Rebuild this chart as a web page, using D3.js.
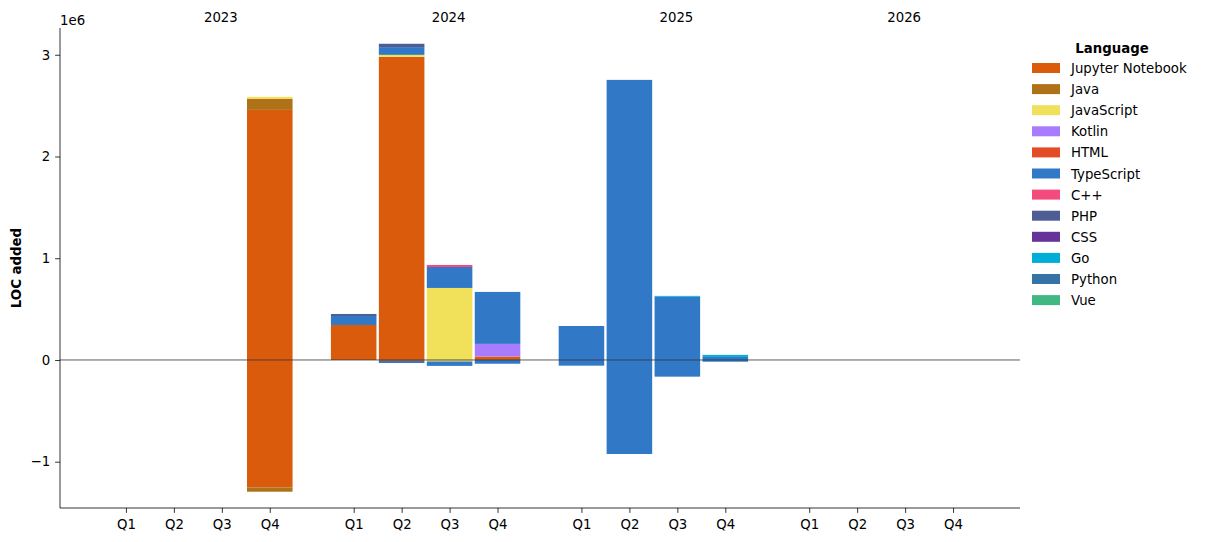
<!DOCTYPE html>
<html>
<head>
<meta charset="utf-8">
<script src="https://cdn.jsdelivr.net/npm/d3@7"></script>
<style>
  body { margin: 0; background: #fff; }
  svg { font-family: "DejaVu Sans", sans-serif; }
</style>
</head>
<body>
<svg id="chart" width="1207" height="542"></svg>
<script>
// ---- data ----
const years = ["2023", "2024", "2025", "2026"];
const quarters = ["Q1", "Q2", "Q3", "Q4"];
const languages = ["Jupyter Notebook", "Java", "JavaScript", "Kotlin", "HTML", "TypeScript", "C++", "PHP", "CSS", "Go", "Python", "Vue"];
const colors = ["#DA5B0B", "#b07219", "#f1e05a", "#A97BFF", "#e34c26", "#3178c6", "#f34b7d", "#4F5D95", "#663399", "#00ADD8", "#3572A5", "#41b883"];
// 16 slots: 2023Q1..Q4, 2024Q1..Q4, 2025Q1..Q4, 2026Q1..Q4
const addedJupyter    = [0,0,0,2458000, 344000,2979000,0,33000, 0,0,0,0, 0,0,0,0];
const addedJava       = [0,0,0,108000, 0,0,0,0, 0,0,0,0, 0,0,0,0];
const addedJavaScript = [0,0,0,20000, 0,20000,708000,0, 0,0,0,0, 0,0,0,0];
const addedKotlin     = [0,0,0,0, 0,0,0,125000, 0,0,0,0, 0,0,0,0];
const addedHTML       = [0,0,0,0, 0,0,0,0, 0,0,0,0, 0,0,0,0];
const addedTypeScript = [0,0,0,0, 88000,76000,206000,511000, 334000,2753000,622000,30000, 0,0,0,0];
const addedCpp        = [0,0,0,0, 0,0,20000,0, 0,0,0,0, 0,0,0,0];
const addedPHP        = [0,0,0,0, 20000,33000,0,0, 0,0,0,0, 0,0,0,0];
const addedCSS        = [0,0,0,0, 0,0,0,0, 0,0,0,0, 0,0,0,0];
const addedGo         = [0,0,0,0, 0,0,0,0, 0,0,8000,20000, 0,0,0,0];
const addedPython     = [0,0,0,0, 0,0,0,0, 0,0,0,0, 0,0,0,0];
const addedVue        = [0,0,0,0, 0,0,0,0, 0,0,0,0, 0,0,0,0];

const removedJupyter    = [0,0,0,-1252000, 0,-10000,0,0, 0,0,0,0, 0,0,0,0];
const removedJava       = [0,0,0,-43000, 0,0,0,0, 0,0,0,0, 0,0,0,0];
const removedJavaScript = [0,0,0,0, 0,0,-15000,0, 0,0,0,0, 0,0,0,0];
const removedTypeScript = [0,0,0,0, 0,-20000,-43000,-37000, -56000,-924000,-164000,-17000, 0,0,0,0];

const yTicks = [-1, 0, 1, 2, 3];

const added = [addedJupyter, addedJava, addedJavaScript, addedKotlin, addedHTML, addedTypeScript, addedCpp, addedPHP, addedCSS, addedGo, addedPython, addedVue];
const zeros = new Array(16).fill(0);
const removed = [removedJupyter, removedJava, removedJavaScript, zeros, zeros, removedTypeScript, zeros, zeros, zeros, zeros, zeros, zeros];

// ---- layout ----
const svg = d3.select("#chart");
const mLeft = 60, mRight = 1020, mTop = 28, mBottom = 508;
const yearStep = 4.75;
const slotPos = (i) => Math.floor(i / 4) * yearStep + (i % 4);

const x = d3.scaleLinear().domain([-1.375, 3 * yearStep + 3 + 1.396]).range([mLeft, mRight]);
const y = d3.scaleLinear().domain([-1455000, 3263000]).range([mBottom, mTop]);
const barW = (x(0.95) - x(0));

// stacked segments
const segs = [];
for (let s = 0; s < 16; s++) {
  let pos = 0, neg = 0;
  languages.forEach((lang, li) => {
    const a = added[li][s];
    if (a > 0) { segs.push({ s, li, y0: pos, y1: pos + a }); pos += a; }
    const r = removed[li][s];
    if (r < 0) { segs.push({ s, li, y0: neg + r, y1: neg }); neg += r; }
  });
}

svg.append("g").selectAll("rect").data(segs).join("rect")
  .attr("x", d => x(slotPos(d.s)) - barW / 2)
  .attr("width", barW)
  .attr("y", d => y(d.y1))
  .attr("height", d => Math.max(0, y(d.y0) - y(d.y1)))
  .attr("fill", d => colors[d.li]);

// zero line
svg.append("line")
  .attr("x1", mLeft).attr("x2", mRight)
  .attr("y1", y(0)).attr("y2", y(0))
  .attr("stroke", "#333").attr("stroke-width", 0.8);

// axes
const yAxis = d3.axisLeft(y).tickValues(yTicks.map(v => v * 1e6))
  .tickFormat(d => d3.format("d")(d / 1e6).replace("-", "\u2212"))
  .tickSizeOuter(0).tickSize(4.9).tickPadding(5);
const gy = svg.append("g").attr("transform", `translate(${mLeft},0)`).call(yAxis);
gy.select(".domain").attr("d", `M0,${mTop}V${mBottom}`).attr("stroke", "#000").attr("stroke-width", 0.8);
gy.selectAll(".tick line").attr("stroke", "#000").attr("stroke-width", 0.8);
gy.selectAll("text").attr("font-size", 13.3).attr("fill", "#000").attr("font-family", "DejaVu Sans");

const slots = d3.range(16);
const xAxis = d3.axisBottom(x).tickValues(slots.map(slotPos))
  .tickFormat((d, i) => quarters[i % 4]).tickSizeOuter(0).tickSize(4.9).tickPadding(6.5);
const gx = svg.append("g").attr("transform", `translate(0,${mBottom})`).call(xAxis);
gx.select(".domain").attr("d", `M${mLeft},0H${mRight}`).attr("stroke", "#000").attr("stroke-width", 0.8);
gx.selectAll(".tick line").attr("stroke", "#000").attr("stroke-width", 0.8);
gx.selectAll("text").attr("font-size", 13.3).attr("fill", "#000").attr("font-family", "DejaVu Sans");

// year labels on top
svg.append("g").selectAll("text").data(years).join("text")
  .attr("x", (d, i) => x(i * yearStep + 1.98))
  .attr("y", 22)
  .attr("text-anchor", "middle")
  .attr("font-size", 13.3)
  .text(d => d);

// offset text
svg.append("text").attr("x", mLeft).attr("y", 25).attr("font-size", 13.3).text("1e6");

// y label
svg.append("text")
  .attr("transform", `translate(21,${(mTop + mBottom) / 2}) rotate(-90)`)
  .attr("text-anchor", "middle")
  .attr("font-size", 13.3).attr("font-weight", "bold")
  .text("LOC added");

// legend
const lg = svg.append("g");
lg.append("text").attr("x", 1112).attr("y", 53).attr("text-anchor", "middle")
  .attr("font-size", 13.3).attr("font-weight", "bold").text("Language");
const items = lg.selectAll("g.item").data(languages).join("g").attr("class", "item")
  .attr("transform", (d, i) => `translate(1032,${63 + i * 21.1})`);
items.append("rect").attr("width", 28).attr("height", 10).attr("fill", (d, i) => colors[i]);
items.append("text").attr("x", 39).attr("y", 10).attr("font-size", 13.3).text(d => d);
</script>
</body>
</html>
